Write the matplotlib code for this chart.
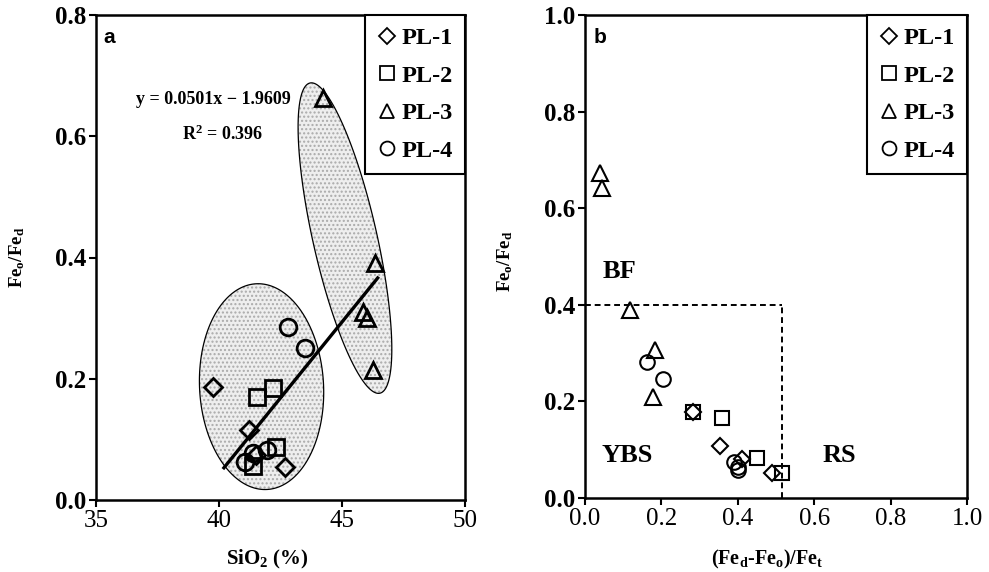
import numpy as np
import matplotlib
matplotlib.use("Agg")
import matplotlib.pyplot as plt
from matplotlib.lines import Line2D
from matplotlib.patches import Polygon

plt.rcParams['font.family'] = ['Liberation Serif', 'DejaVu Serif']
plt.rcParams['mathtext.default'] = 'regular'

# ---------------- data ----------------
series = ["PL-1", "PL-2", "PL-3", "PL-4"]
markers = {"PL-1": "D", "PL-2": "s", "PL-3": "^", "PL-4": "o"}

# panel a : SiO2 (%) vs Feo/Fed
a_pl1_x = [39.76, 41.2, 42.7, 41.5]
a_pl1_y = [0.186, 0.115, 0.054, 0.075]
a_pl2_x = [41.55, 42.2, 42.3, 41.4]
a_pl2_y = [0.170, 0.185, 0.087, 0.056]
a_pl3_x = [44.23, 46.34, 45.85, 46.0, 46.26]
a_pl3_y = [0.663, 0.391, 0.310, 0.300, 0.215]
a_pl4_x = [42.8, 43.5, 41.06, 41.4, 41.95]
a_pl4_y = [0.285, 0.251, 0.063, 0.078, 0.082]

fit_slope = 0.0501
fit_intercept = -1.9609
fit_r2 = 0.396
fit_x_range = [40.2, 46.45]

# panel b : (Fed-Feo)/Fet vs Feo/Fed
b_pl1_x = [0.282, 0.353, 0.41, 0.49]
b_pl1_y = [0.178, 0.108, 0.080, 0.052]
b_pl2_x = [0.282, 0.359, 0.45, 0.516]
b_pl2_y = [0.178, 0.166, 0.083, 0.052]
b_pl3_x = [0.039, 0.044, 0.118, 0.183, 0.178]
b_pl3_y = [0.673, 0.642, 0.389, 0.306, 0.209]
b_pl4_x = [0.163, 0.205, 0.39, 0.40, 0.40]
b_pl4_y = [0.282, 0.246, 0.075, 0.065, 0.058]

bf_threshold_y = 0.4
rs_threshold_x = 0.515

a_data = {"PL-1": (a_pl1_x, a_pl1_y), "PL-2": (a_pl2_x, a_pl2_y),
          "PL-3": (a_pl3_x, a_pl3_y), "PL-4": (a_pl4_x, a_pl4_y)}
b_data = {"PL-1": (b_pl1_x, b_pl1_y), "PL-2": (b_pl2_x, b_pl2_y),
          "PL-3": (b_pl3_x, b_pl3_y), "PL-4": (b_pl4_x, b_pl4_y)}

# ---------------- figure ----------------
W, H = 989, 572
fig = plt.figure(figsize=(W / 100, H / 100), dpi=100)
ax_a = fig.add_axes([96 / W, 1 - 500 / H, 369 / W, 485 / H])
ax_b = fig.add_axes([585 / W, 1 - 498 / H, 382 / W, 483 / H])

msize = {"D": 9, "s": 11, "^": 12, "o": 12}
msize_b = {"D": 8.5, "s": 10, "^": 11, "o": 10.5}


def style_axes(ax):
    for side in ["left", "bottom", "right", "top"]:
        ax.spines[side].set_linewidth(1.8)
    ax.tick_params(direction="out", length=5, width=1.5, top=False, right=False,
                   pad=2)
    for lab in ax.get_xticklabels():
        lab.set_fontsize(18)
    for lab in ax.get_yticklabels():
        lab.set_fontsize(18)
        lab.set_fontweight("bold")


def draw_ellipse(ax, cx, cy, a_px, b_px, angle_deg):
    # ellipse defined in display pixels around a data-space centre
    c = ax.transData.transform((cx, cy))
    t = np.linspace(0, 2 * np.pi, 200)
    th = np.deg2rad(angle_deg)
    px = c[0] + a_px * np.cos(t) * np.cos(th) - b_px * np.sin(t) * np.sin(th)
    py = c[1] + a_px * np.cos(t) * np.sin(th) + b_px * np.sin(t) * np.cos(th)
    pts = ax.transData.inverted().transform(np.column_stack([px, py]))
    ax.add_patch(Polygon(pts, closed=True, facecolor="#eeeeee", edgecolor="#aaaaaa",
                         hatch="....", lw=0, zorder=1))
    ax.add_patch(Polygon(pts, closed=True, facecolor="none", edgecolor="black",
                         lw=0.9, zorder=2))


def legend(ax, spacing):
    handles = [Line2D([], [], ls="none", marker=markers[s], mfc="white", mec="black",
                      ms=10 if markers[s] != "D" else 8, mew=1.3, label=s) for s in series]
    leg = ax.legend(handles=handles, loc="upper right", bbox_to_anchor=(1, 1),
                    borderaxespad=0, fancybox=False, framealpha=1,
                    edgecolor="black",
                    prop={"size": 17.5, "family": "Liberation Serif", "weight": "bold"},
                    handlelength=0.8, handletextpad=0.2, labelspacing=spacing,
                    borderpad=0.5)
    leg.get_frame().set_linewidth(1.5)
    leg.set_zorder(10)


# ---------- panel a ----------
ax_a.set_xlim(35, 50)
ax_a.set_ylim(0, 0.8)
ax_a.set_xticks([35, 40, 45, 50])
ax_a.set_yticks([0.0, 0.2, 0.4, 0.6, 0.8])
ax_a.yaxis.set_major_formatter(matplotlib.ticker.FormatStrFormatter("%.1f"))
style_axes(ax_a)

draw_ellipse(ax_a, 41.73, 0.187, 103, 62, 93)
draw_ellipse(ax_a, 45.12, 0.432, 159, 32, 102.7)

fx = np.array(fit_x_range)
ax_a.plot(fx, fit_slope * fx + fit_intercept, color="black", lw=2.4, zorder=4)

for s in series:
    x, y = a_data[s]
    m = markers[s]
    ax_a.plot(x, y, ls="none", marker=m, ms=msize[m], mfc="none", mec="black",
              mew=2.0, zorder=5)

ax_a.text(0.319, 0.825, f"y = {fit_slope:.4f}x \u2212 {abs(fit_intercept):.4f}",
          transform=ax_a.transAxes, ha="center", va="center", fontsize=13,
          fontweight="bold")
ax_a.text(0.342, 0.753, f"R$^2$ = {fit_r2:.3f}", transform=ax_a.transAxes,
          ha="center", va="center", fontsize=13, fontweight="bold")
ax_a.text(0.035, 0.953, "a", transform=ax_a.transAxes, ha="center", va="center",
          fontsize=15, fontweight="bold", family="Liberation Sans")

ax_a.set_xlabel("SiO$_2$ (%)", fontsize=15, fontweight="bold")
ax_a.set_ylabel("Fe$_o$/Fe$_d$", fontsize=13.5, fontweight="bold")
ax_a.xaxis.set_label_coords(0.463, -0.099)
ax_a.yaxis.set_label_coords(-0.187, 0.5)
legend(ax_a, 0.64)

# ---------- panel b ----------
ax_b.set_xlim(0, 1.0)
ax_b.set_ylim(0, 1.0)
ax_b.set_xticks([0.0, 0.2, 0.4, 0.6, 0.8, 1.0])
ax_b.set_yticks([0.0, 0.2, 0.4, 0.6, 0.8, 1.0])
ax_b.xaxis.set_major_formatter(matplotlib.ticker.FormatStrFormatter("%.1f"))
ax_b.yaxis.set_major_formatter(matplotlib.ticker.FormatStrFormatter("%.1f"))
style_axes(ax_b)

ax_b.plot([0, rs_threshold_x], [bf_threshold_y, bf_threshold_y], color="black",
          lw=1.4, dashes=(3, 2), zorder=2)
ax_b.plot([rs_threshold_x, rs_threshold_x], [0, bf_threshold_y], color="black",
          lw=1.4, dashes=(3, 2), zorder=2)

for s in series:
    x, y = b_data[s]
    m = markers[s]
    ax_b.plot(x, y, ls="none", marker=m, ms=msize_b[m], mfc="none", mec="black",
              mew=1.5, zorder=5)

ax_b.text(0.09, 0.468, "BF", transform=ax_b.transAxes, ha="center", va="center",
          fontsize=19, fontweight="bold")
ax_b.text(0.11, 0.089, "YBS", transform=ax_b.transAxes, ha="center", va="center",
          fontsize=19, fontweight="bold")
ax_b.text(0.667, 0.089, "RS", transform=ax_b.transAxes, ha="center", va="center",
          fontsize=19, fontweight="bold")
ax_b.text(0.04, 0.954, "b", transform=ax_b.transAxes, ha="center", va="center",
          fontsize=15, fontweight="bold", family="Liberation Sans")

ax_b.set_xlabel("(Fe$_d$-Fe$_o$)/Fe$_t$", fontsize=14.5, fontweight="bold")
ax_b.set_ylabel("Fe$_o$/Fe$_d$", fontsize=13.5, fontweight="bold")
ax_b.xaxis.set_label_coords(0.476, -0.103)
ax_b.yaxis.set_label_coords(-0.183, 0.49)
legend(ax_b, 0.64)

fig.savefig("out.png", dpi=100)
